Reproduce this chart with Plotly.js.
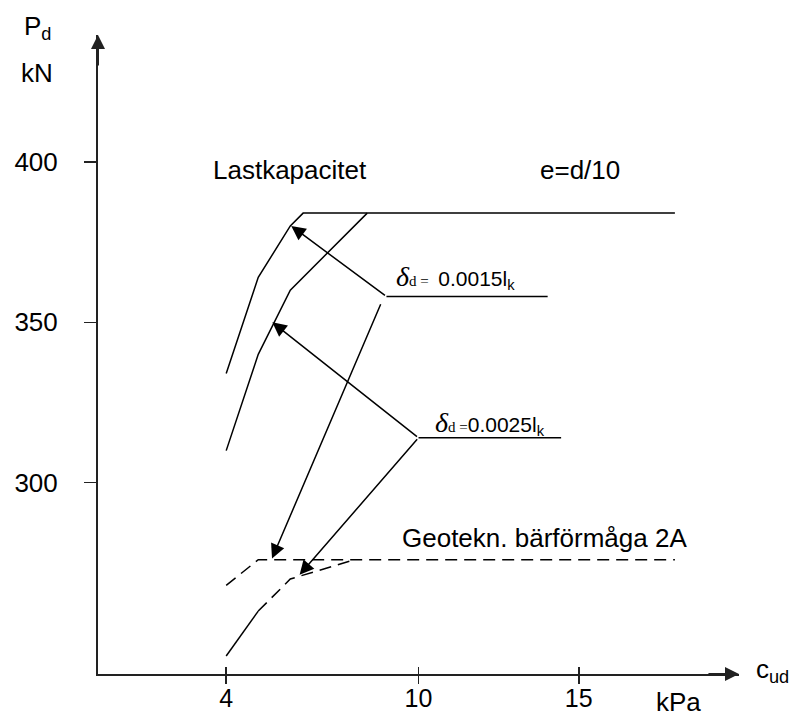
<!DOCTYPE html>
<html>
<head>
<meta charset="utf-8">
<script src="https://cdn.plot.ly/plotly-3.0.1.min.js"></script>
<style>html,body{margin:0;padding:0;background:#fff;}#chart{width:792px;height:716px;}</style>
</head>
<body>
<div id="chart"></div>
<script>
// ---- data ----
// Load capacity curves (Lastkapacitet, e=d/10)
var capX1 = [4, 5, 6, 6.4, 18];
var capY1 = [334, 364, 380, 384, 384];      // delta_d = 0.0015 lk
var capX2 = [4, 5, 6, 8.4];
var capY2 = [310, 340, 360, 384];           // delta_d = 0.0025 lk
// Geotechnical bearing capacity 2A
var geoX1 = [4, 5, 18];
var geoY1 = [268, 276, 276];
var geoX2Solid = [4, 5];
var geoY2Solid = [246, 260];
var geoX2Dash = [5, 6, 8];
var geoY2Dash = [260, 270, 276];
// label leader lines
var lead1X = [9, 14.03], lead1Y = [358, 358];
var lead2X = [10, 14.45], lead2Y = [314, 314];
// arrows: [headX, headY, tailX, tailY]
var arrowHeadX = [6.03, 5.44, 5.43, 6.29];
var arrowHeadY = [380, 350, 276.4, 271.3];
var arrowTailX = [9, 10, 8.84, 10];
var arrowTailY = [358, 314, 356.1, 314];
// axis ticks
var xTicks = [4, 10, 15];
var xTickText = ['4', '10', '15'];
var yTicks = [300, 350, 400];
var yTickText = ['300', '350', '400'];
var xRange = [0, 20];
var yRange = [240.4, 439.5];

var FONT = 'Liberation Sans, Arial, sans-serif';
var SERIF = 'Liberation Serif, Times New Roman, serif';
var INK = '#000';
var AX = '#222';

function line(x, y, dash) {
  return {x: x, y: y, type: 'scatter', mode: 'lines', hoverinfo: 'skip', showlegend: false,
          line: {color: INK, width: 1.5, dash: dash || 'solid'}, cliponaxis: false};
}

var traces = [
  line(capX1, capY1), line(capX2, capY2),
  line(geoX1, geoY1, '12px,7px'),
  line(geoX2Solid, geoY2Solid),
  line(geoX2Dash, geoY2Dash, '12px,7px'),
  line(lead1X, lead1Y), line(lead2X, lead2Y),
  {x: [], y: [], xaxis: 'x2', type: 'scatter', mode: 'lines', showlegend: false, hoverinfo: 'skip'}
];

var annotations = [];
for (var i = 0; i < arrowHeadX.length; i++) {
  annotations.push({x: arrowHeadX[i], y: arrowHeadY[i], ax: arrowTailX[i], ay: arrowTailY[i],
    xref: 'x', yref: 'y', axref: 'x', ayref: 'y', text: '', showarrow: true,
    arrowhead: 2, arrowsize: 1.9, arrowwidth: 1.5, arrowcolor: INK, standoff: 0});
}
// axis arrow heads
annotations.push({x: xRange[1], y: yRange[0], ax: xRange[1] - 1, ay: yRange[0], xref: 'x', yref: 'y',
  axref: 'x', ayref: 'y', text: '', showarrow: true, arrowhead: 2, arrowsize: 1.4, arrowwidth: 2, arrowcolor: AX, standoff: 0});
annotations.push({x: xRange[0], y: yRange[1], ax: xRange[0], ay: yRange[1] - 10, xref: 'x', yref: 'y',
  axref: 'x', ayref: 'y', text: '', showarrow: true, arrowhead: 2, arrowsize: 1.4, arrowwidth: 2, arrowcolor: AX, standoff: 0});

function txt(x, y, t, ref, size) {
  return {x: x, y: y, xref: ref, yref: ref === 'paper' ? 'paper' : 'y', text: t, showarrow: false,
    xanchor: 'left', yanchor: 'middle', font: {family: FONT, size: size || 26, color: INK}};
}
annotations.push(txt(3.53, 397.4, 'Lastkapacitet', 'x'));
annotations.push(txt(13.72, 397.4, 'e=d/10', 'x'));
annotations.push(txt(9.41, 282.9, 'Geotekn. bärförmåga 2A', 'x'));
annotations.push(txt(9.24, 364,
  '<i><span style="font-family:' + SERIF + ';font-size:28px">δ</span></i>' +
  '<span style="font-family:' + SERIF + ';font-size:15px">d = </span> 0.0015l<sub>k</sub>', 'x', 21));
annotations.push(txt(10.44, 318.5,
  '<i><span style="font-family:' + SERIF + ';font-size:28px">δ</span></i>' +
  '<span style="font-family:' + SERIF + ';font-size:15px">d =</span>0.0025l<sub>k</sub>', 'x', 21));
annotations.push(txt(-0.118, 1.012, 'P<sub>d</sub>', 'paper'));
annotations.push(txt(-0.123, 0.9405, 'kN', 'paper'));
annotations.push(txt(1.023, 0.006, 'c<sub>ud</sub>', 'paper'));
annotations.push(txt(0.867, -0.0433, 'kPa', 'paper'));

var layout = {
  width: 792, height: 716,
  margin: {l: 98, r: 53, t: 35, b: 42, pad: 0},
  paper_bgcolor: '#fff', plot_bgcolor: '#fff',
  font: {family: FONT, size: 26, color: INK},
  showlegend: false,
  xaxis: {range: xRange, showgrid: false, zeroline: false, showline: true, linecolor: AX, linewidth: 2,
    tickmode: 'array', tickvals: xTicks, ticktext: xTickText, ticks: 'outside', ticklen: 8,
    tickwidth: 1.5, tickcolor: AX, tickfont: {family: FONT, size: 25, color: INK}, ticklabelstandoff: -7},
  xaxis2: {range: xRange, overlaying: 'x', anchor: 'y', side: 'bottom', showgrid: false, zeroline: false,
    showline: false, tickmode: 'array', tickvals: xTicks, ticks: 'inside', ticklen: 7, tickwidth: 1.5,
    tickcolor: AX, showticklabels: false},
  yaxis: {range: yRange, showgrid: false, zeroline: false, showline: true, linecolor: AX, linewidth: 2,
    tickmode: 'array', tickvals: yTicks, ticktext: yTickText, ticks: 'outside', ticklen: 12,
    tickwidth: 1.5, tickcolor: AX, tickfont: {family: FONT, size: 26, color: INK}, ticklabelstandoff: 21},
  annotations: annotations
};

Plotly.newPlot('chart', traces, layout, {staticPlot: true, displayModeBar: false});
</script>
</body>
</html>
